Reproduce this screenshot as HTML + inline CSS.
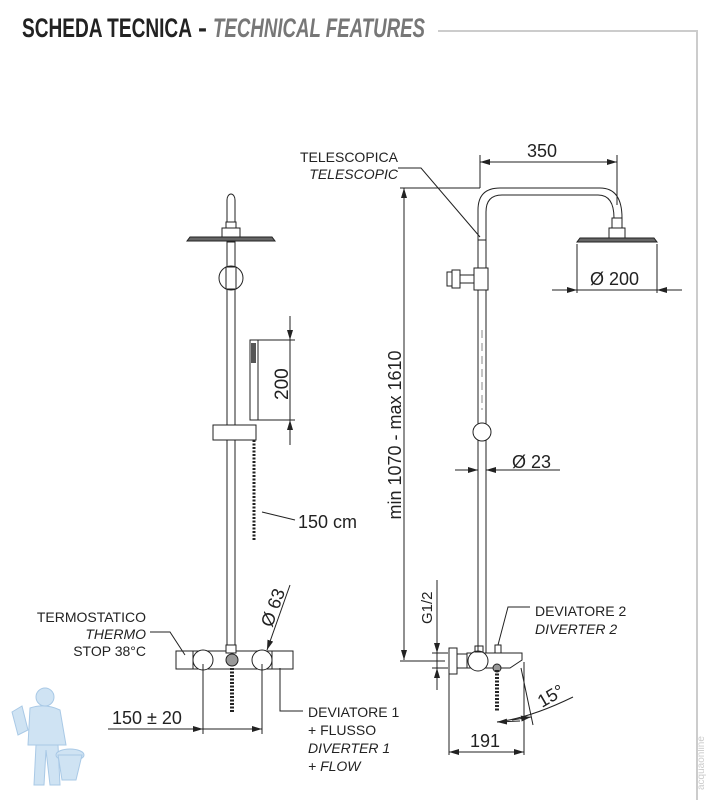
<!DOCTYPE html>
<html><head><meta charset="utf-8"><style>
html,body{margin:0;padding:0;background:#fff;}
svg{display:block;}
text{font-family:"Liberation Sans",sans-serif;fill:#222;}
</style></head><body>
<svg width="714" height="800" viewBox="0 0 714 800" xmlns="http://www.w3.org/2000/svg">
<defs>
<marker id="a" markerWidth="10" markerHeight="6" refX="10" refY="3" orient="auto" markerUnits="userSpaceOnUse"><path d="M0,0 L10,3 L0,6z" fill="#222"/></marker>
</defs>
<!-- header -->
<text x="22" y="37" font-size="27" font-weight="bold" textLength="170" lengthAdjust="spacingAndGlyphs" style="font-family:'Liberation Sans Narrow','Liberation Sans',sans-serif" fill="#333">SCHEDA TECNICA</text>
<text x="198" y="37" font-size="27" font-weight="bold" fill="#444">-</text>
<text x="213" y="37" font-size="27" font-weight="bold" font-style="italic" textLength="212" lengthAdjust="spacingAndGlyphs" style="font-family:'Liberation Sans Narrow','Liberation Sans',sans-serif;fill:#777">TECHNICAL FEATURES</text>
<polyline points="438,31 697,31 697,800" fill="none" stroke="#ccc" stroke-width="2"/>

<g stroke="#222" stroke-width="1" fill="none">
<!-- LEFT drawing -->
<path d="M227,200 A4,6 0 0 1 235,200 L235,222 L227,222 Z" fill="#fff"/>
<rect x="226" y="222" width="10" height="6"/>
<rect x="222" y="228" width="18" height="11"/>
<path d="M187,241 L275,241 L272,237 L190,237 Z" fill="#666"/>
<rect x="227" y="242" width="8" height="410" fill="#fff"/>
<circle cx="231" cy="278" r="12"/>
<rect x="226" y="267" width="10" height="22" fill="#fff"/>
<rect x="250" y="340" width="8" height="80"/>
<rect x="251" y="343" width="5" height="20" fill="#555" stroke="none"/>
<path d="M213,425 L256,425 L256,440 L213,440 Z" fill="#fff"/>
<line x1="254" y1="440" x2="254" y2="540" stroke-width="3" stroke-dasharray="2,1.5"/>
<!-- 200 dim -->
<line x1="290" y1="316" x2="290" y2="445"/>
<line x1="290" y1="330" x2="290" y2="340" marker-end="url(#a)"/>
<line x1="290" y1="432" x2="290" y2="420" marker-end="url(#a)"/>
<line x1="258" y1="340" x2="295" y2="340"/>
<line x1="258" y1="420" x2="295" y2="420"/>
<line x1="262" y1="512" x2="295" y2="520"/>
<!-- mixer -->
<rect x="176" y="651" width="117" height="18" fill="#fff"/>
<circle cx="203" cy="660" r="10" fill="#fff"/>
<circle cx="262" cy="660" r="10" fill="#fff"/>
<line x1="193" y1="651" x2="193" y2="669"/><line x1="272" y1="651" x2="272" y2="669"/>
<rect x="226" y="645" width="10" height="8" fill="#fff"/>
<circle cx="232" cy="660" r="6" fill="#999"/>
<line x1="232" y1="668" x2="232" y2="712" stroke-width="4" stroke-dasharray="2,1.5"/>
<line x1="203" y1="664" x2="203" y2="734"/>
<line x1="262" y1="664" x2="262" y2="734"/>
<line x1="108" y1="729" x2="203" y2="729"/>
<line x1="180" y1="729" x2="203" y2="729" marker-end="url(#a)"/>
<line x1="240" y1="729" x2="262" y2="729" marker-end="url(#a)"/>
<line x1="203" y1="729" x2="262" y2="729"/>
<line x1="290" y1="585" x2="267" y2="650" marker-end="url(#a)"/>
<polyline points="150,632 170,632 185,655"/>
<polyline points="280,668 280,711 303,711"/>

<!-- RIGHT drawing -->
<path d="M478,655 L478,210 Q478,188 500,188 L600,188 Q622,188 622,218"/>
<path d="M486,655 L486,212 Q486,195 502,195 L598,195 Q614,195 614,218"/>
<line x1="478" y1="240" x2="486" y2="240"/>
<rect x="612" y="218" width="10" height="10"/>
<rect x="609" y="228" width="16" height="10"/>
<path d="M577,242 L657,242 L654,238 L580,238 Z" fill="#666"/>
<rect x="474" y="268" width="14" height="22" fill="#fff"/>
<rect x="460" y="275" width="14" height="8"/>
<rect x="452" y="270" width="8" height="18"/>
<rect x="447" y="272" width="5" height="14"/>
<circle cx="482" cy="432" r="9" fill="#fff"/>
<line x1="482" y1="330" x2="482" y2="410" stroke-dasharray="8,5" stroke="#888"/>
<!-- 350 -->
<line x1="480" y1="155" x2="480" y2="188"/><line x1="617" y1="155" x2="617" y2="205"/>
<line x1="480" y1="162" x2="617" y2="162"/>
<line x1="500" y1="162" x2="480" y2="162" marker-end="url(#a)"/>
<line x1="597" y1="162" x2="617" y2="162" marker-end="url(#a)"/>
<!-- Ø200 -->
<line x1="577" y1="244" x2="577" y2="293"/><line x1="657" y1="244" x2="657" y2="293"/>
<line x1="552" y1="290" x2="577" y2="290" marker-end="url(#a)"/>
<line x1="577" y1="290" x2="657" y2="290"/>
<line x1="682" y1="290" x2="657" y2="290" marker-end="url(#a)"/>
<!-- telescopic -->
<polyline points="398,168 421,168 480,237"/>
<line x1="400" y1="188" x2="480" y2="188"/>
<!-- min-max dim -->
<line x1="404" y1="188" x2="404" y2="660"/>
<line x1="404" y1="210" x2="404" y2="188" marker-end="url(#a)"/>
<line x1="404" y1="640" x2="404" y2="660" marker-end="url(#a)"/>
<line x1="400" y1="661" x2="445" y2="661"/>
<!-- Ø23 -->
<line x1="455" y1="470" x2="478" y2="470" marker-end="url(#a)"/>
<line x1="560" y1="470" x2="486" y2="470" marker-end="url(#a)"/>
<!-- G1/2 -->
<line x1="437" y1="640" x2="437" y2="653" marker-end="url(#a)"/>
<line x1="437" y1="580" x2="437" y2="690"/>
<line x1="437" y1="680" x2="437" y2="668" marker-end="url(#a)"/>
<line x1="432" y1="653" x2="448" y2="653"/><line x1="432" y1="668" x2="448" y2="668"/>
<!-- bottom mixer -->
<rect x="449" y="648" width="8" height="26" fill="#fff"/>
<rect x="457" y="654" width="10" height="14"/>
<path d="M467,653 L522,653 L522,660 L510,668 L467,668 Z" fill="#fff"/>
<circle cx="478" cy="661" r="10" fill="#fff"/>
<rect x="475" y="646" width="8" height="6"/>
<rect x="495" y="645" width="6" height="8"/>
<circle cx="497" cy="668" r="4" fill="#999"/>
<line x1="497" y1="670" x2="497" y2="712" stroke-width="4" stroke-dasharray="2,1.5"/>
<polyline points="498,645 508,607 530,607"/>
<line x1="521" y1="668" x2="533" y2="725"/>
<path d="M497,722 Q530,718 573,697"/>
<line x1="520" y1="721" x2="497" y2="722" marker-end="url(#a)"/>
<line x1="512" y1="720" x2="531" y2="717" marker-end="url(#a)"/>
<!-- 191 -->
<line x1="449" y1="674" x2="449" y2="755"/><line x1="524" y1="662" x2="524" y2="755"/>
<line x1="470" y1="752" x2="449" y2="752" marker-end="url(#a)"/>
<line x1="449" y1="752" x2="524" y2="752"/>
<line x1="503" y1="752" x2="524" y2="752" marker-end="url(#a)"/>
</g>

<!-- texts -->
<text x="0" y="0" font-size="19" transform="translate(288,400) rotate(-90)">200</text>
<text x="298" y="528" font-size="18">150 cm</text>
<text x="0" y="0" font-size="18" transform="translate(272,628) rotate(-70)">Ø 63</text>
<g font-size="14" text-anchor="end">
<text x="146" y="622">TERMOSTATICO</text>
<text x="146" y="639" font-style="italic">THERMO</text>
<text x="146" y="656">STOP 38°C</text>
</g>
<text x="112" y="724" font-size="18">150 ± 20</text>
<g font-size="14">
<text x="308" y="717">DEVIATORE 1</text>
<text x="308" y="735">+ FLUSSO</text>
<text x="308" y="753" font-style="italic">DIVERTER 1</text>
<text x="308" y="771" font-style="italic">+ FLOW</text>
</g>
<g font-size="14" text-anchor="end">
<text x="398" y="162">TELESCOPICA</text>
<text x="398" y="179" font-style="italic">TELESCOPIC</text>
</g>
<text x="527" y="157" font-size="18">350</text>
<text x="590" y="285" font-size="18">Ø 200</text>
<text x="0" y="0" font-size="18" text-anchor="middle" transform="translate(401,435) rotate(-90)">min 1070 - max 1610</text>
<text x="512" y="468" font-size="18">Ø 23</text>
<text x="0" y="0" font-size="15" transform="translate(432,624) rotate(-90)">G1/2</text>
<g font-size="14">
<text x="535" y="616">DEVIATORE 2</text>
<text x="535" y="634" font-style="italic">DIVERTER 2</text>
</g>
<text x="0" y="0" font-size="18" transform="translate(542,708) rotate(-30)">15°</text>
<text x="470" y="747" font-size="18">191</text>

<!-- logo -->
<g fill="#cfe3f3" stroke="#a9c9e6" stroke-width="1">
<circle cx="45" cy="697" r="9"/>
<path d="M30,708 Q45,703 60,710 L66,745 L28,745 Z"/>
<path d="M36,745 L34,785 L44,785 L46,750 L50,785 L60,785 L58,745 Z"/>
<ellipse cx="70" cy="755" rx="14" ry="6"/>
<path d="M58,755 L62,780 L76,780 L82,755 Z"/>
<path d="M12,712 L22,706 L28,730 L18,735 Z"/>
</g>
<text x="0" y="0" font-size="10" fill="#ccc" transform="translate(704,790) rotate(-90)" style="fill:#ccc">acquaonline</text>
</svg>
</body></html>
